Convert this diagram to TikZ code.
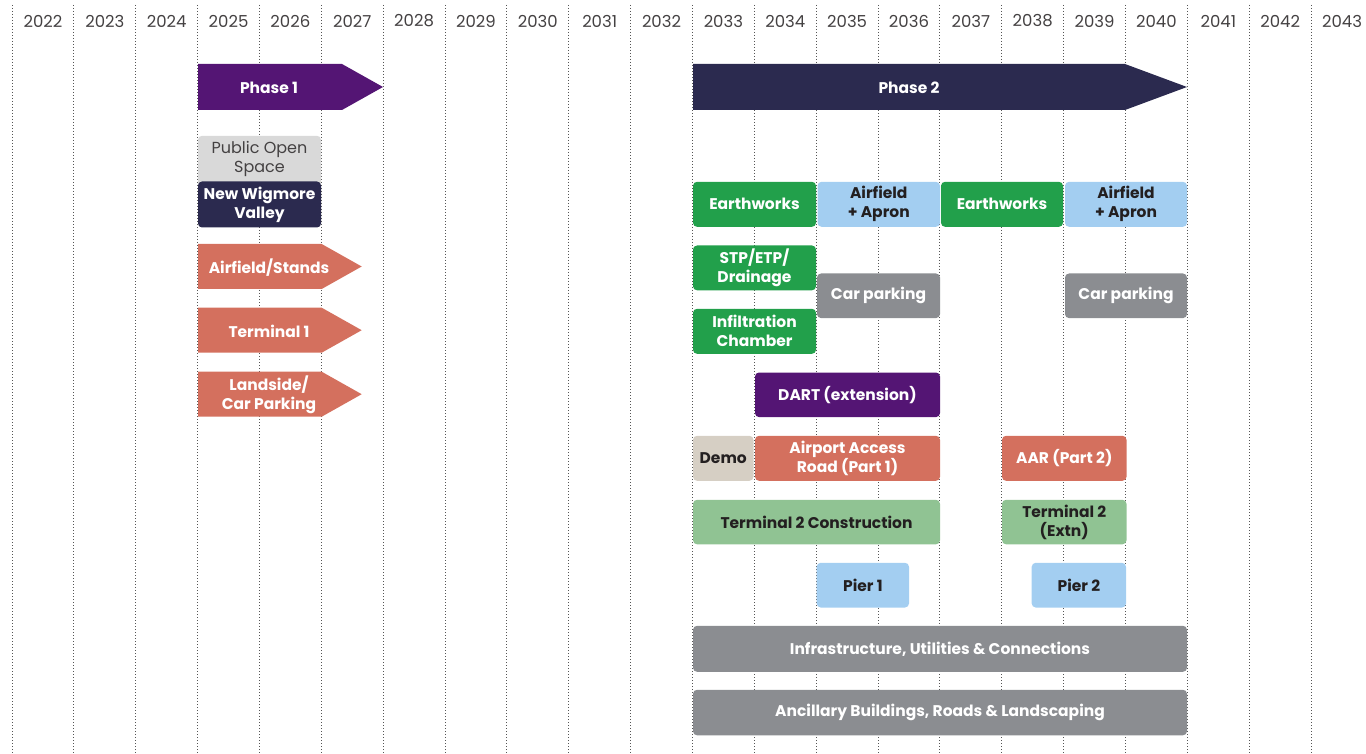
\documentclass[tikz,border=0pt]{standalone}
\usepackage{fontspec}
\setmainfont{Poppins}
\definecolor{purpleP}{HTML}{541574}
\definecolor{navy}{HTML}{2B2A4F}
\definecolor{terra}{HTML}{D4705E}
\definecolor{greenE}{HTML}{22A04B}
\definecolor{lblue}{HTML}{A3CEF1}
\definecolor{grayB}{HTML}{8B8D91}
\definecolor{lgreen}{HTML}{90C393}
\definecolor{beige}{HTML}{D6CFC4}
\definecolor{lgray}{HTML}{D9D9D9}
\definecolor{darktext}{HTML}{231F20}
\definecolor{gridc}{HTML}{555555}
\newcommand{\gbar}[7]{%
  \pgfmathsetmacro{\gw}{#4-#2}\pgfmathsetmacro{\gh}{#5-#3}%
  \node[bar,#6,minimum width=\gw pt,minimum height=\gh pt] (#1) at ({(#2+#4)/2},{(#3+#5)/2+0.8}) {#7};}
\tikzset{
  bar/.style={rounded corners=4pt, inner sep=0pt, align=center, text=white,
    font=\fontsize{15.5}{19}\selectfont\bfseries},
  darkt/.style={text=darktext},
  arrowlabel/.style={inner sep=0pt, align=center, text=white,
    font=\fontsize{15.5}{19}\selectfont\bfseries},
  yearlabel/.style={inner sep=0pt, text=darktext!85, font=\fontsize{16.5}{19}\selectfont},
  gridline/.style={gridc, dotted, line width=1pt}
}
\begin{document}
\begin{tikzpicture}[x=1pt,y=-1pt]
\useasboundingbox (0,0) rectangle (1366,754);
% grid and years
\foreach \k in {0,...,21}{
  \coordinate (gt\k) at ({12+61.86*\k},5);
  \coordinate (gb\k) at ({12+61.86*\k},754);
  \draw[gridline] (gt\k) -- (gb\k);
  \pgfmathtruncatemacro{\yr}{2022+\k}
  \node[yearlabel] (y\yr) at ({12+61.86*(\k+0.5)},21) {\yr};
}
% Phase arrows
\fill[purpleP] (198,64) -- (342,64) -- (383,87) -- (342,110) -- (198,110) -- cycle;
\node[arrowlabel] (phase1) at (269,88) {Phase 1};
\fill[navy] (693,64) -- (1125,64) -- (1187,87) -- (1125,110) -- (693,110) -- cycle;
\node[arrowlabel] (phase2) at (909,88) {Phase 2};
% Phase 1 items
\fill[lgray] (198,170) rectangle (321,190);
\gbar{pos}{198}{135}{321}{181}{fill=lgray,text=darktext!85,font=\fontsize{16}{19}\selectfont}{Public Open\\Space}
\gbar{nwv}{198}{180.7}{321}{226.7}{fill=navy}{New Wigmore\\Valley}
\fill[terra] (198,244) -- (321.7,244) -- (361.7,266.5) -- (321.7,289) -- (198,289) -- cycle;
\node[arrowlabel] (afs) at (269,267.5) {Airfield/Stands};
\fill[terra] (198,307.7) -- (321.7,307.7) -- (361.7,330.2) -- (321.7,352.7) -- (198,352.7) -- cycle;
\node[arrowlabel] (t1) at (269,331.5) {Terminal 1};
\fill[terra] (198,371.7) -- (321.7,371.7) -- (361.7,394.2) -- (321.7,416.7) -- (198,416.7) -- cycle;
\node[arrowlabel] (lcp) at (269,395) {Landside/\\Car Parking};
% Phase 2 items
\gbar{ew1}{693}{181}{816}{226}{fill=greenE}{Earthworks}
\gbar{aa1}{817.5}{181}{940}{226}{fill=lblue,darkt}{Airfield\\+ Apron}
\gbar{ew2}{941}{181}{1063}{226}{fill=greenE}{Earthworks}
\gbar{aa2}{1065}{181}{1187}{226}{fill=lblue,darkt}{Airfield\\+ Apron}
\gbar{stp}{693}{244.7}{816}{289.5}{fill=greenE}{STP/ETP/\\Drainage}
\gbar{cp1}{817}{272.7}{940}{317.3}{fill=grayB}{Car parking}
\gbar{cp2}{1065}{272.7}{1187}{317.3}{fill=grayB}{Car parking}
\gbar{inf}{693}{308}{816}{353}{fill=greenE}{Infiltration\\Chamber}
\gbar{dart}{755}{371.7}{940}{416.3}{fill=purpleP}{DART (extension)}
\gbar{demo}{693}{435}{753.5}{480}{fill=beige,darkt}{Demo}
\gbar{aar1}{755}{435}{940}{480}{fill=terra}{Airport Access\\Road (Part 1)}
\gbar{aar2}{1002}{435}{1126.5}{480}{fill=terra}{AAR (Part 2)}
\gbar{t2c}{693}{499}{940}{543.5}{fill=lgreen,darkt}{Terminal 2 Construction}
\gbar{t2e}{1002}{499}{1126.5}{543.5}{fill=lgreen,darkt}{Terminal 2\\(Extn)}
\gbar{pier1}{816.7}{562}{909}{606.7}{fill=lblue,darkt}{Pier 1}
\gbar{pier2}{1031.7}{562}{1126}{606.7}{fill=lblue,darkt}{Pier 2}
\gbar{infra}{693}{625}{1187}{671}{fill=grayB}{Infrastructure, Utilities \& Connections}
\gbar{anc}{693}{689}{1187}{734.5}{fill=grayB}{Ancillary Buildings, Roads \& Landscaping}
\end{tikzpicture}
\end{document}
